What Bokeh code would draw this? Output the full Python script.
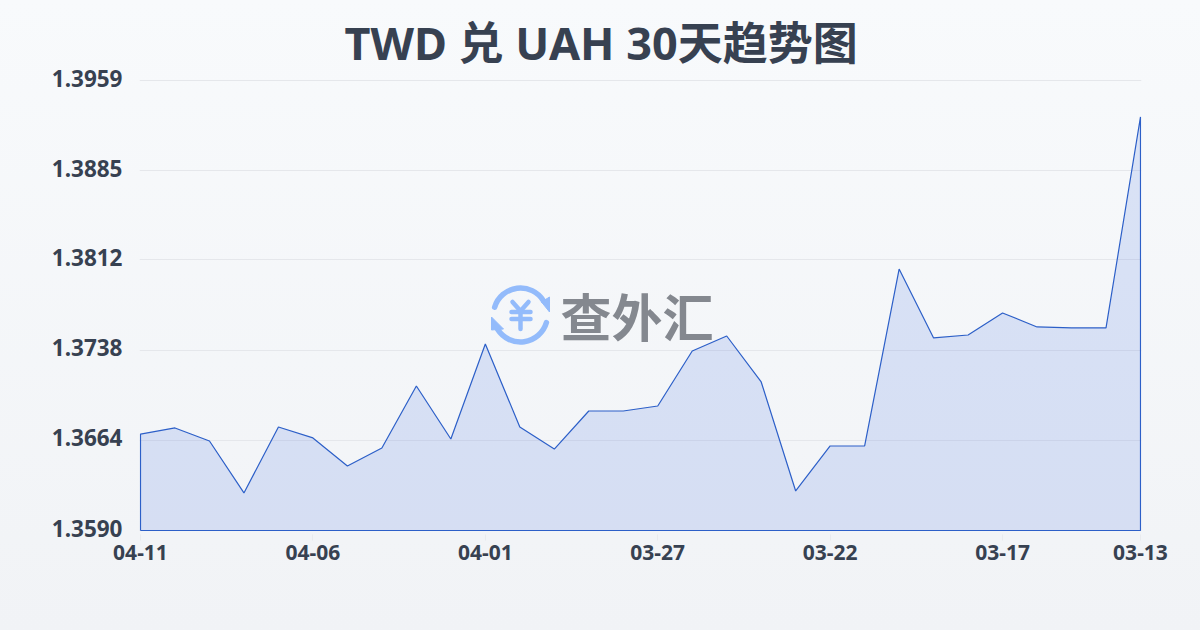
from bokeh.plotting import figure
from bokeh.embed import file_html
from bokeh.resources import INLINE
from bokeh.models import FixedTicker, Range1d, GlobalInlineStyleSheet
from bokeh.core.properties import value

title = "TWD 兑 UAH 30天趋势图"
dates = ["04-11","04-10","04-09","04-08","04-07","04-06","04-05","04-04","04-03","04-02",
         "04-01","03-31","03-30","03-29","03-28","03-27","03-26","03-25","03-24","03-23",
         "03-22","03-21","03-20","03-19","03-18","03-17","03-16","03-15","03-14","03-13"]
rates = [1.36691,1.36741,1.36634,1.36208,1.36749,1.36659,1.36429,1.36577,1.37085,1.36650,
         1.37429,1.36749,1.36568,1.36880,1.36880,1.36921,1.37372,1.37495,1.37118,1.36224,
         1.36593,1.36593,1.38044,1.37479,1.37503,1.37684,1.37569,1.37561,1.37561,1.39291]
y_ticks = [1.3590,1.3664,1.3738,1.3812,1.3885,1.3959]
x_tick_idx = [0,5,10,15,20,25,29]

FONT = '"Noto Sans", "Noto Sans CJK SC", sans-serif'
DARK = "#374151"
LINE = "#2c5fc8"
BLUE = "#93bbfb"
Y0, Y1 = y_ticks[0], y_ticks[-1]
N = len(rates) - 1
PAD = 4
XPAD = 1
UPP = (Y1 - Y0) / 450
UPX = N / 1000

p = figure(width=1200, height=630, output_backend="svg", toolbar_location=None,
           x_range=Range1d(-XPAD * UPX, N + XPAD * UPX), y_range=Range1d(Y0 - PAD * UPP, Y1 + PAD * UPP),
           min_border_left=139, min_border_right=59, min_border_top=76, min_border_bottom=96,
           border_fill_color=None, background_fill_color=None, outline_line_color=None)
p.stylesheets = [GlobalInlineStyleSheet(css="html{min-height:100%;background:linear-gradient(180deg,#f8fafc 0%,#f1f3f6 100%) no-repeat;background-size:100% 630px;}")]
# tick labels sit a little above their grid lines, as in the reference
p.extra_y_ranges = {"labels": Range1d(Y0 - (PAD + 2.5) * UPP, Y1 + (PAD - 2.5) * UPP)}

p.title.text = title
p.title.align = "left"
p.title.offset = 205
p.title.standoff = 8
p.title.text_font = FONT
p.title.text_font_size = "45px"
p.title.text_font_style = "bold"
p.title.text_color = DARK

p.xgrid.visible = False
p.ygrid.ticker = FixedTicker(ticks=y_ticks)
p.ygrid.grid_line_color = "#e5e7eb"
p.ygrid.grid_line_width = 1

for ax in (p.xaxis[0], p.yaxis[0]):
    ax.axis_line_color = None
    ax.minor_tick_line_color = None
    ax.major_label_text_color = DARK
    ax.major_label_text_font = FONT
    ax.major_label_text_font_style = "bold"
p.yaxis[0].major_tick_line_color = None
p.yaxis[0].y_range_name = "labels"
p.yaxis[0].ticker = FixedTicker(ticks=y_ticks)
p.yaxis[0].major_label_overrides = {t: f"{t:.4f}" for t in y_ticks}
p.yaxis[0].major_label_text_font_size = "22.5px"
p.yaxis[0].major_label_standoff = 11
p.xaxis[0].ticker = FixedTicker(ticks=x_tick_idx)
p.xaxis[0].major_tick_line_color = "#e9ebee"
p.xaxis[0].major_tick_in = 0
p.xaxis[0].major_tick_out = 6
p.xaxis[0].major_label_overrides = {i: dates[i] for i in x_tick_idx}
p.xaxis[0].major_label_text_font_size = "21px"
p.xaxis[0].major_label_standoff = 4

xs = list(range(len(rates)))
p.varea(x=xs, y1=[Y0]*len(xs), y2=rates, fill_color="#3963dd", fill_alpha=0.15)
p.line(x=[xs[0]] + xs + [xs[-1], xs[0]], y=[Y0] + rates + [Y0, Y0], line_color=LINE, line_width=1.2)

# page-pixel helpers for the watermark
def dx(px): return (px - 140) / 1000 * N
def dy(py): return Y1 - (py - 80.5) / 450 * (Y1 - Y0)

cx, cy = 520, 315
p.arc(x=[dx(cx)]*2, y=[dy(cy)]*2, radius=27, radius_units="screen",
      start_angle=[0.55, 3.70], end_angle=[2.85, 6.0], line_color=BLUE, line_width=5.5, line_cap="round")
p.patches(xs=[[dx(541),dx(549),dx(549)],[dx(491),dx(503),dx(491)]],
          ys=[[dy(302),dy(297),dy(312)],[dy(317),dy(329),dy(330)]],
          fill_color=BLUE, line_color=BLUE, line_width=1)
p.multi_line(xs=[[dx(512),dx(520),dx(528)],[dx(511),dx(530)],[dx(511),dx(530)],[dx(520),dx(520)]],
             ys=[[dy(302),dy(311),dy(302)],[dy(312),dy(312)],[dy(319),dy(319)],[dy(311),dy(329)]],
             line_color=BLUE, line_width=4.5, line_cap="round")
p.text(x=[dx(560)], y=[dy(315)], text=["查外汇"], text_font=value("Noto Sans CJK SC"),
       text_font_size="51px", text_font_style="bold", text_color="#84888f",
       text_baseline="middle", text_align="left")

open("out.html", "w").write(file_html(p, INLINE))
